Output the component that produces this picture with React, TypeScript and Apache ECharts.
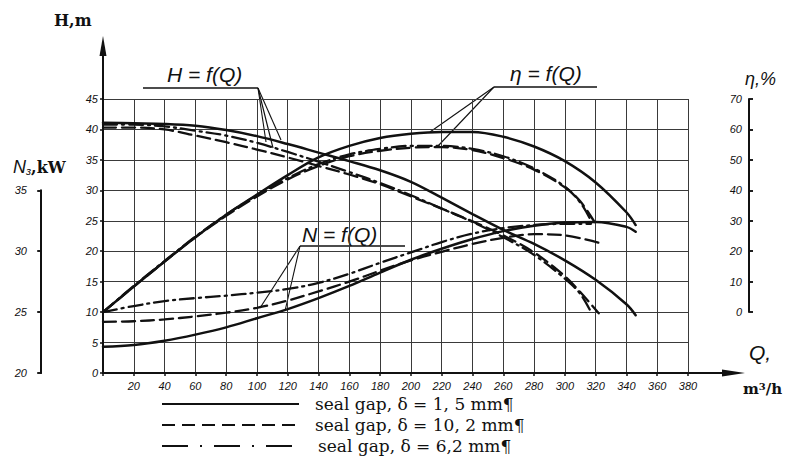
import React, { useEffect, useRef } from "react";
import * as echarts from "echarts";

// ---------- data ----------
// Head H (m) vs flow Q (m3/h)
const Q_H_SOLID = [0, 20, 40, 60, 80, 100, 120, 140, 160, 180, 200, 220, 240, 260, 280, 300, 320, 340, 346];
const H_SOLID = [41.1, 41.0, 40.9, 40.6, 39.9, 38.9, 37.6, 36.2, 34.8, 33.3, 31.4, 28.8, 26.1, 23.5, 21.2, 18.5, 15.3, 11.3, 9.5];
const Q_H_DASH = [0, 20, 40, 60, 80, 100, 120, 140, 160, 180, 200, 220, 240, 260, 280, 300, 310, 322];
const H_DASH = [40.3, 40.3, 40.0, 39.0, 37.9, 36.7, 35.4, 34.0, 32.6, 31.0, 29.0, 27.0, 24.9, 22.6, 19.8, 15.9, 13.3, 9.8];
const Q_H_DASHDOT = [0, 20, 40, 60, 80, 100, 120, 140, 160, 180, 200, 220, 240, 260, 280, 300, 310, 317];
const H_DASHDOT = [40.8, 40.8, 40.5, 39.8, 39.0, 37.8, 36.3, 34.7, 33.0, 31.2, 29.2, 27.0, 24.8, 22.3, 19.4, 15.5, 13.0, 10.0];

// Efficiency eta (%)
const Q_ETA_SOLID = [0, 20, 40, 60, 80, 100, 120, 140, 160, 180, 200, 220, 240, 260, 280, 300, 320, 340, 346];
const ETA_SOLID = [0, 8.4, 16.6, 24.6, 32, 38.6, 45, 50.8, 54.6, 57.2, 58.6, 59.2, 59.2, 57.6, 54.4, 49.6, 42.6, 32.8, 28.6];
const Q_ETA_DASH = [0, 20, 40, 60, 80, 100, 120, 140, 160, 180, 200, 220, 240, 260, 280, 300, 310, 320];
const ETA_DASH = [0, 8.4, 16.6, 24.6, 31.6, 38, 43.6, 48, 51.2, 53, 54, 54.2, 53.2, 50.6, 46.8, 41, 36.4, 29];
const Q_ETA_DASHDOT = [0, 20, 40, 60, 80, 100, 120, 140, 160, 180, 200, 220, 240, 260, 280, 300, 310, 316];
const ETA_DASHDOT = [0, 8.6, 16.8, 24.8, 32, 38.4, 44, 48.6, 51.8, 53.6, 54.6, 54.6, 53.6, 51.2, 47.2, 41.2, 36, 31];

// Power N (kW)
const Q_N_SOLID = [0, 20, 40, 60, 80, 100, 120, 140, 160, 180, 200, 220, 240, 260, 280, 300, 320, 340, 346];
const N_SOLID = [22.15, 22.3, 22.65, 23.15, 23.75, 24.5, 25.25, 26.15, 27.15, 28.25, 29.3, 30.2, 31.0, 31.65, 32.1, 32.35, 32.4, 32.0, 31.6];
const Q_N_DASH = [0, 20, 40, 60, 80, 100, 120, 140, 160, 180, 200, 220, 240, 260, 280, 300, 322];
const N_DASH = [24.2, 24.25, 24.4, 24.65, 24.95, 25.35, 25.95, 26.7, 27.5, 28.4, 29.25, 29.95, 30.6, 31.1, 31.4, 31.3, 30.7];
const Q_N_DASHDOT = [0, 20, 40, 60, 80, 100, 120, 140, 160, 180, 200, 220, 240, 260, 280, 300, 317];
const N_DASHDOT = [25, 25.5, 25.9, 26.15, 26.35, 26.6, 26.9, 27.4, 28.15, 29.05, 29.9, 30.75, 31.45, 31.9, 32.15, 32.25, 32.25];

// Axis ranges / tick steps
const Q_RANGE = [0, 380];
const Q_STEP = 20;
const H_RANGE = [0, 45];
const H_STEP = 5;
const ETA_RANGE = [0, 70];
const ETA_STEP = 10;
const N_RANGE = [20, 35];
const N_STEP = 5;

const LEGEND_TEXTS = [
  "seal gap, \u03B4 = 1, 5 mm\u00B6",
  "seal gap, \u03B4 = 10, 2 mm\u00B6",
  "seal gap, \u03B4 = 6,2 mm\u00B6",
];

// ---------- layout ----------
const GL = 103, GT = 99, GW = 585, GH = 274;
const PX_PER_H = GH / (H_RANGE[1] - H_RANGE[0]);
// eta axis: 0% at H=10, 70% at H=45  => 2% per metre
const ETA_TOP = GT;
const ETA_H = (45 - 10) * PX_PER_H;
// N axis: 20 kW at H=0, 35 kW at H=30 => 0.5 kW per metre
const N_H = 30 * PX_PER_H;
const N_TOP = GT + GH - N_H;

const zip = (xs: number[], ys: number[]) => xs.map((x, i) => [x, ys[i]]);

const INK = "#111";
const HAND = "'Liberation Sans', 'DejaVu Sans', sans-serif";
const SERIF = "'DejaVu Serif', 'Liberation Serif', serif";

const SOLID = { type: "solid" as const, width: 2.5 };
const DASH = { type: [13, 6], width: 2.3 };
const DASHDOT = { type: [14, 5, 2, 5], width: 2.3 };

export default function App() {
  const ref = useRef<HTMLDivElement>(null);
  useEffect(() => {
    if (!ref.current) return;
    const chart = echarts.init(ref.current, undefined, { renderer: "svg" });

    const line = (name: string, data: number[][], yAxisIndex: number, style: any) => ({
      name,
      type: "line",
      xAxisIndex: 0,
      yAxisIndex,
      data,
      smooth: 0.35,
      showSymbol: false,
      symbol: "none",
      silent: true,
      lineStyle: { color: INK, ...style, cap: "round" },
    });

    const tickLabel = { fontStyle: "italic", fontFamily: HAND, fontSize: 11, color: INK };

    const arrowY = [
      { type: "line", shape: { x1: GL, y1: GT, x2: GL, y2: 44 }, style: { stroke: INK, lineWidth: 2 } },
      { type: "polygon", shape: { points: [[99.5, 56], [GL, 36], [106.5, 56]] }, style: { fill: INK } },
    ];
    const arrowX = [
      { type: "line", shape: { x1: GL + GW, y1: GT + GH, x2: 735, y2: GT + GH }, style: { stroke: INK, lineWidth: 2 } },
      { type: "polygon", shape: { points: [[722, GT + GH - 3.5], [745, GT + GH], [722, GT + GH + 3.5]] }, style: { fill: INK } },
    ];

    const annot = (label: string, tx: number, ty: number, ux1: number, ux2: number, uy: number, leaders: number[][]) => [
      {
        type: "text",
        x: tx,
        y: ty,
        style: { text: label, font: `italic 21px ${HAND}`, fill: INK, textVerticalAlign: "bottom" },
      },
      { type: "line", shape: { x1: ux1, y1: uy, x2: ux2, y2: uy }, style: { stroke: INK, lineWidth: 1.6 } },
      ...leaders.map(([x1, y1, x2, y2]) => ({
        type: "line",
        shape: { x1, y1, x2, y2 },
        style: { stroke: INK, lineWidth: 1.1 },
      })),
    ];

    const legendY = [404, 425, 446];
    const legendStyles = [
      [],
      [13, 7],
      [26, 12, 2, 12],
    ];
    const legend = legendY.flatMap((y, i) => [
      {
        type: "line",
        shape: { x1: 162, y1: y, x2: 299, y2: y },
        style: { stroke: INK, lineWidth: 1.8, lineDash: legendStyles[i].length ? legendStyles[i] : null },
      },
      {
        type: "text",
        x: i === 2 ? 318 : 315,
        y,
        style: { text: LEGEND_TEXTS[i], font: `17px ${SERIF}`, fill: INK, textVerticalAlign: "middle" },
      },
    ]);

    chart.setOption({
      animation: false,
      backgroundColor: "#fff",
      grid: [
        { left: GL, top: GT, width: GW, height: GH },
        { left: 749, top: ETA_TOP, width: 1, height: ETA_H },
        { left: 41, top: N_TOP, width: 1, height: N_H },
      ],
      xAxis: [
        {
          gridIndex: 0,
          type: "value",
          min: Q_RANGE[0],
          max: Q_RANGE[1],
          interval: Q_STEP,
          axisLine: { show: true, onZero: false, lineStyle: { color: INK, width: 2 } },
          axisTick: { show: true, length: 3, lineStyle: { color: INK, width: 1.5 } },
          axisLabel: { ...tickLabel, margin: 7, formatter: (v: number) => (v === 0 ? "" : String(v)) },
          splitLine: { show: true, lineStyle: { color: "#3a3a3a", width: 1 } },
        },
        { gridIndex: 1, type: "value", show: false },
        { gridIndex: 2, type: "value", show: false },
      ],
      yAxis: [
        {
          gridIndex: 0,
          type: "value",
          min: H_RANGE[0],
          max: H_RANGE[1],
          interval: H_STEP,
          axisLine: { show: true, onZero: false, lineStyle: { color: INK, width: 2 } },
          axisTick: { show: true, length: 3, lineStyle: { color: INK, width: 1.5 } },
          axisLabel: { ...tickLabel, margin: 5 },
          splitLine: { show: true, lineStyle: { color: "#3a3a3a", width: 1 } },
        },
        { gridIndex: 0, type: "value", show: false, min: -20, max: 70, splitLine: { show: false } },
        { gridIndex: 0, type: "value", show: false, min: 20, max: 42.5, splitLine: { show: false } },
        {
          gridIndex: 1,
          type: "value",
          min: ETA_RANGE[0],
          max: ETA_RANGE[1],
          interval: ETA_STEP,
          axisLine: { show: true, lineStyle: { color: INK, width: 2 } },
          axisTick: { show: true, length: 4, inside: true, lineStyle: { color: INK, width: 1.5 } },
          axisLabel: { ...tickLabel, margin: 7 },
          splitLine: { show: false },
        },
        {
          gridIndex: 1,
          type: "value",
          min: ETA_RANGE[0],
          max: ETA_RANGE[1],
          interval: ETA_STEP,
          axisLine: { show: false },
          axisTick: { show: true, length: 3, lineStyle: { color: INK, width: 1.5 } },
          axisLabel: { show: false },
          splitLine: { show: false },
        },
        {
          gridIndex: 2,
          type: "value",
          min: N_RANGE[0],
          max: N_RANGE[1],
          interval: N_STEP,
          axisLine: { show: true, lineStyle: { color: INK, width: 2 } },
          axisTick: { show: true, length: 4, lineStyle: { color: INK, width: 1.5 } },
          axisLabel: { ...tickLabel, margin: 14 },
          splitLine: { show: false },
        },
        {
          gridIndex: 2,
          type: "value",
          min: N_RANGE[0],
          max: N_RANGE[1],
          interval: N_STEP,
          axisLine: { show: false },
          axisTick: { show: true, inside: true, length: 4, lineStyle: { color: INK, width: 1.5 } },
          axisLabel: { show: false },
          splitLine: { show: false },
        },
      ],
      series: [
        line("H solid", zip(Q_H_SOLID, H_SOLID), 0, SOLID),
        line("H dash", zip(Q_H_DASH, H_DASH), 0, DASH),
        line("H dashdot", zip(Q_H_DASHDOT, H_DASHDOT), 0, DASHDOT),
        line("eta solid", zip(Q_ETA_SOLID, ETA_SOLID), 1, SOLID),
        line("eta dash", zip(Q_ETA_DASH, ETA_DASH), 1, DASH),
        line("eta dashdot", zip(Q_ETA_DASHDOT, ETA_DASHDOT), 1, DASHDOT),
        line("N solid", zip(Q_N_SOLID, N_SOLID), 2, SOLID),
        line("N dash", zip(Q_N_DASH, N_DASH), 2, DASH),
        line("N dashdot", zip(Q_N_DASHDOT, N_DASHDOT), 2, DASHDOT),
      ],
      graphic: [
        ...arrowY,
        ...arrowX,
        { type: "text", x: 54, y: 12, style: { text: "H,m", font: `bold 16px ${SERIF}`, fill: INK } },
        {
          type: "text",
          x: 13,
          y: 158,
          style: {
            text: "{n|N}{s|з}{k|,kW}",
            rich: {
              n: { font: `italic 18px ${HAND}`, fill: INK },
              s: { font: `italic 11px ${HAND}`, fill: INK, verticalAlign: "bottom", padding: [6, 0, 0, 0] },
              k: { font: `bold 16px ${SERIF}`, fill: INK },
            },
          },
        },
        { type: "text", x: 745, y: 70, style: { text: "\u03B7,%", font: `italic 18px ${HAND}`, fill: INK } },
        { type: "text", x: 749, y: 342, style: { text: "Q,", font: `italic 21px ${HAND}`, fill: INK } },
        {
          type: "text",
          x: 743,
          y: 381,
          style: {
            text: "{a|m}{b|3}{a|/h}",
            rich: {
              a: { font: `bold 15px ${SERIF}`, fill: INK },
              b: { font: `bold 10px ${SERIF}`, fill: INK, verticalAlign: "top", padding: [0, 0, 6, 0] },
            },
          },
        },
        ...annot("H = f(Q)", 167, 85, 143, 258, 88, [
          [258, 88, 266, 142],
          [258, 88, 273, 148],
          [258, 88, 281, 140],
        ]),
        ...annot("\u03B7 = f(Q)", 510, 84, 494, 597, 87, [
          [494, 87, 430, 132],
          [494, 87, 438, 146],
        ]),
        ...annot("N = f(Q)", 302, 245, 300, 405, 246, [
          [300, 246, 260, 308],
          [300, 246, 285, 311],
        ]),
        ...legend,
      ],
    });
    return () => chart.dispose();
  }, []);
  return <div ref={ref} style={{ width: 795, height: 459, position: "absolute", left: 0, top: 0 }} />;
}
